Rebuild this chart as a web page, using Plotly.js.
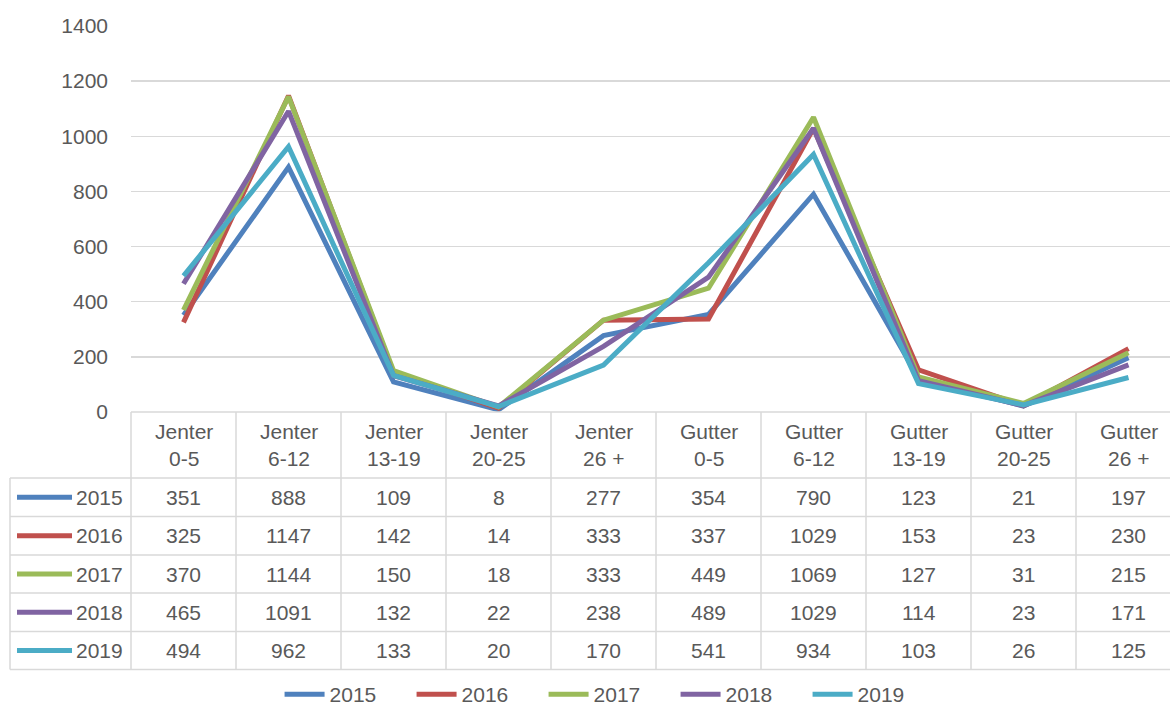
<!DOCTYPE html>
<html>
<head>
<meta charset="utf-8">
<script src="https://cdn.plot.ly/plotly-3.0.1.min.js"></script>
<style>html,body{margin:0;padding:0;background:#fff;}#chart{width:1170px;height:715px;}</style>
</head>
<body>
<div id="chart"></div>
<script>
var catTop = ["Jenter","Jenter","Jenter","Jenter","Jenter","Gutter","Gutter","Gutter","Gutter","Gutter"];
var catBottom = ["0-5","6-12","13-19","20-25","26 +","0-5","6-12","13-19","20-25","26 +"];
var years = ["2015","2016","2017","2018","2019"];
var v2015 = [351, 888, 109, 8, 277, 354, 790, 123, 21, 197];
var v2016 = [325, 1147, 142, 14, 333, 337, 1029, 153, 23, 230];
var v2017 = [370, 1144, 150, 18, 333, 449, 1069, 127, 31, 215];
var v2018 = [465, 1091, 132, 22, 238, 489, 1029, 114, 23, 171];
var v2019 = [494, 962, 133, 20, 170, 541, 934, 103, 26, 125];
var colors = ["#4F81BD", "#C0504D", "#9BBB59", "#8064A2", "#4BACC6"];
var yTicks = [0, 200, 400, 600, 800, 1000, 1200, 1400];

var series = [v2015, v2016, v2017, v2018, v2019];
var cats = catTop.map(function(t, i){ return t + " " + catBottom[i]; });

var FONT = "Liberation Sans, Arial, sans-serif";
var TXT = "#595959";
var GRID = "#D9D9D9";

// layout geometry (pixels)
var W = 1170, H = 715;
var mL = 131, mR = 0, mT = 26, mB = 303;
var plotW = W - mL - mR, plotH = H - mT - mB;
var colW = 105;
var xr = [-0.5, -0.5 + plotW / colW];
function xp(v){ return (v - xr[0]) / (xr[1] - xr[0]); }      // axis value -> paper x
function xpx(px){ return (px - mL) / plotW; }                 // pixel -> paper x
function ypx(py){ return (H - mB - py) / plotH; }              // pixel -> paper y

var traces = series.map(function(vals, k){
  return {
    type: "scatter", mode: "lines", name: years[k],
    x: cats, y: vals,
    line: {color: colors[k], width: 5, shape: "linear"},
    hoverinfo: "none"
  };
});

// table rows (pixel y of borders)
var headTop = 412, headBot = 478;
var rowB = [478, 516.5, 555, 593, 631.5, 669.5];
var tableLeft = 10;

var shapes = [];
function hline(x0, x1, y){ shapes.push({type:"line", xref:"paper", yref:"paper", x0:x0, x1:x1, y0:y, y1:y, line:{color:GRID, width:1.5}, layer:"above"}); }
function vline(x, y0, y1){ shapes.push({type:"line", xref:"paper", yref:"paper", x0:x, x1:x, y0:y0, y1:y1, line:{color:GRID, width:1.5}, layer:"above"}); }

hline(xp(-0.5), 1, ypx(headTop));
rowB.forEach(function(py){ hline(xpx(tableLeft), 1, ypx(py)); });
for (var i = 0; i <= cats.length; i++) {
  var xv = xp(i - 0.5);
  if (xv <= 1.0001) vline(xv, ypx(headTop), ypx(rowB[rowB.length-1]));
}
vline(xpx(tableLeft), ypx(headBot), ypx(rowB[rowB.length-1]));

var annotations = [];
cats.forEach(function(c, i){
  annotations.push({xref:"x", yref:"paper", x:i, y:ypx(431), text:catTop[i], showarrow:false, font:{family:FONT, size:21, color:TXT}, xanchor:"center", yanchor:"middle"});
  annotations.push({xref:"x", yref:"paper", x:i, y:ypx(458), text:catBottom[i], showarrow:false, font:{family:FONT, size:21, color:TXT}, xanchor:"center", yanchor:"middle"});
});
series.forEach(function(vals, k){
  var cy = (rowB[k] + rowB[k+1]) / 2;
  vals.forEach(function(v, i){
    annotations.push({xref:"x", yref:"paper", x:i, y:ypx(cy), text:String(v), showarrow:false, font:{family:FONT, size:21, color:TXT}, xanchor:"center", yanchor:"middle"});
  });
  annotations.push({xref:"paper", yref:"paper", x:xpx(125), y:ypx(cy), text:years[k], showarrow:false, font:{family:FONT, size:21, color:TXT}, xanchor:"right", yanchor:"middle"});
  shapes.push({type:"line", xref:"paper", yref:"paper", x0:xpx(17), x1:xpx(72), y0:ypx(cy), y1:ypx(cy), line:{color:colors[k], width:5}, layer:"above"});
});

var layout = {
  width: W, height: H,
  margin: {l: mL, r: mR, t: mT, b: mB, pad: 0},
  paper_bgcolor: "#fff", plot_bgcolor: "#fff",
  font: {family: FONT, size: 21, color: TXT},
  showlegend: true,
  legend: {orientation: "h", xref: "container", yref: "container", x: 0.521, y: -0.008, xanchor: "center", yanchor: "bottom",
           font: {family: FONT, size: 21, color: TXT}, entrywidth: 77, entrywidthmode: "pixels", itemwidth: 40, traceorder: "normal"},
  xaxis: {type: "category", range: xr, showgrid: false, zeroline: false, showline: false, showticklabels: false, ticks: "", fixedrange: true},
  yaxis: {range: [0, 1400], tickvals: yTicks, ticktext: yTicks.map(String), showgrid: true, gridcolor: GRID, gridwidth: 1.3,
          zeroline: false, showline: false, ticks: "", ticklabelstandoff: 22,
          tickfont: {family: FONT, size: 21, color: TXT}, fixedrange: true},
  shapes: shapes,
  annotations: annotations
};

Plotly.newPlot("chart", traces, layout, {displayModeBar: false, staticPlot: true});
</script>
</body>
</html>
